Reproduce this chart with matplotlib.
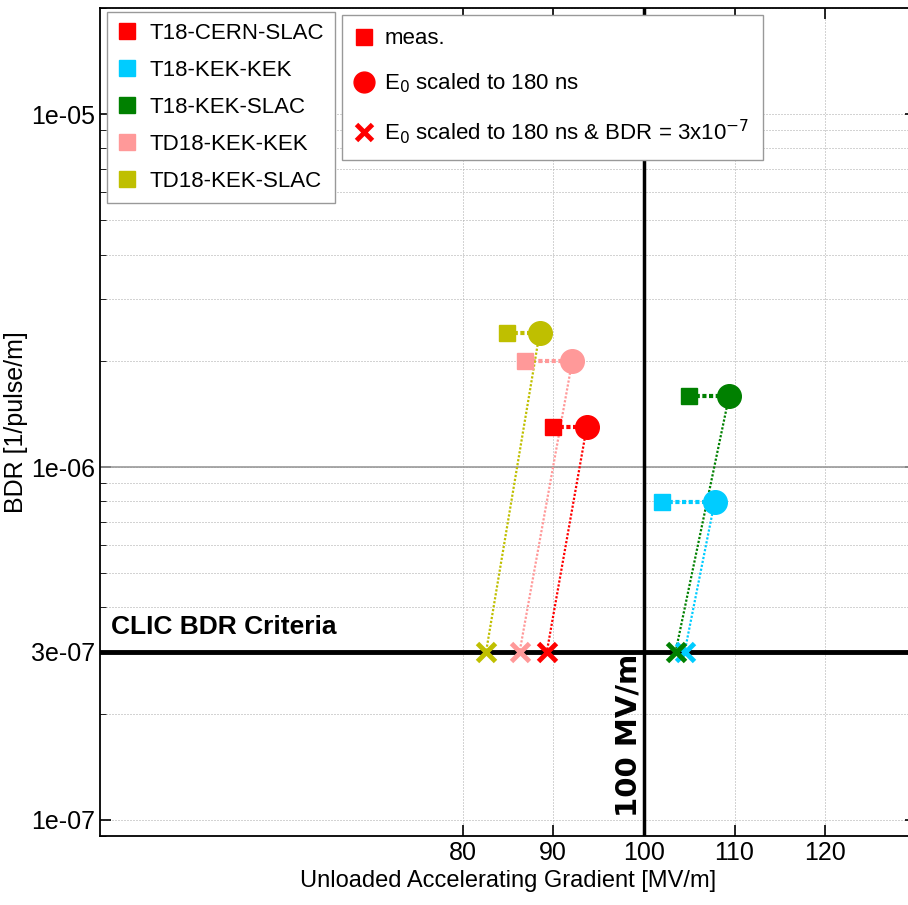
import numpy as np
import matplotlib.pyplot as plt
from matplotlib.lines import Line2D
from matplotlib.ticker import LogLocator, NullFormatter, NullLocator

plt.rcParams['font.family'] = ['Liberation Sans', 'DejaVu Sans']

# structures and colours
names = ['T18-CERN-SLAC', 'T18-KEK-KEK', 'T18-KEK-SLAC', 'TD18-KEK-KEK', 'TD18-KEK-SLAC']
colors = ['#ff0000', '#00ccff', '#008000', '#ff9999', '#bfbf00']

# measured gradient / BDR
e_meas = [90.0, 102.0, 105.0, 86.9, 84.9]
bdr_meas = [1.30e-6, 7.96e-7, 1.59e-6, 2.0e-6, 2.40e-6]
# E0 scaled to 180 ns (same BDR)
e_180 = [93.7, 107.8, 109.4, 92.1, 88.5]
# E0 scaled to 180 ns and BDR = 3e-7
e_crit = [89.3, 104.5, 103.5, 86.3, 82.6]
bdr_crit = 3e-7
clic_grad = 100

x_ticks = [80, 90, 100, 110, 120]
y_ticks = [1e-7, 3e-7, 1e-6, 1e-5]
y_ticklabels = ['1e-07', '3e-07', '1e-06', '1e-05']

# dotted grid with a whole-pixel period (avoids moire stripes at 100 dpi)
grid_style = dict(ls=(0, (1, 2)), color='#a8a8a8', lw=0.72)

fig = plt.figure(figsize=(9.08, 9.05), dpi=100)
ax = fig.add_axes([0.110, 0.0762, 0.8987, 0.915])
ax.set_yscale('log')
ax.set_xlim(40, 130)
ax.set_ylim(9e-8, 2e-5)

for i in range(len(names)):
    c = colors[i]
    ax.plot([e_meas[i], e_180[i]], [bdr_meas[i], bdr_meas[i]], ls=(0, (1, 0.6)), color=c, lw=3, zorder=3)
    ax.plot([e_180[i], e_crit[i]], [bdr_meas[i], bdr_crit], ls=(0, (1, 0.8)), color=c, lw=1.6, zorder=3)
    ax.plot(e_meas[i], bdr_meas[i], 's', color=c, ms=12, zorder=4)
    ax.plot(e_180[i], bdr_meas[i], 'o', color=c, ms=17, zorder=4)
    ax.plot(e_crit[i], bdr_crit, 'x', color=c, ms=13, mew=3.5, zorder=5)

ax.axhline(bdr_crit, color='black', lw=3.5, zorder=2)
ax.axvline(clic_grad, color='black', lw=2.5, zorder=2)
ax.axhline(1e-6, color='#999999', lw=1.2, zorder=1)

ax.text(41.2, 3.25e-7, 'CLIC BDR Criteria', fontsize=19, fontweight='bold', va='bottom')
ax.text(98.3, 1.02e-7, '100 MV/m', fontsize=21, fontweight='bold', rotation=90,
        va='bottom', ha='center', family='DejaVu Sans')

ax.set_xticks(x_ticks)
ax.xaxis.set_minor_locator(NullLocator())
ax.set_yticks(y_ticks)
ax.set_yticklabels(y_ticklabels)
ax.yaxis.set_minor_locator(LogLocator(base=10, subs=np.arange(2, 10)))
ax.yaxis.set_minor_formatter(NullFormatter())
ax.tick_params(which='both', direction='in', top=True, right=True, labelsize=18)
ax.tick_params(which='major', length=8, width=1.2)
ax.tick_params(which='minor', length=4)
ax.xaxis.grid(True, which='major', **grid_style)
ax.yaxis.grid(True, which='both', **grid_style)
ax.set_axisbelow(True)

ax.set_xlabel('Unloaded Accelerating Gradient [MV/m]', fontsize=17, labelpad=4)
ax.set_ylabel('BDR [1/pulse/m]', fontsize=18, labelpad=2)
for s in ax.spines.values():
    s.set_linewidth(1.3)

h1 = [Line2D([], [], marker='s', ls='none', color=c, ms=11) for c in colors]
leg1 = ax.legend(h1, names, loc='upper left', bbox_to_anchor=(107 / 908, 1 - 12 / 905),
                 bbox_transform=fig.transFigure, fontsize=16, fancybox=False, framealpha=1,
                 edgecolor='#999999', handlelength=0.8, handletextpad=0.6, borderpad=0.5,
                 labelspacing=0.72, borderaxespad=0)
ax.add_artist(leg1)

h2 = [Line2D([], [], marker='s', ls='none', color='red', ms=11),
      Line2D([], [], marker='o', ls='none', color='red', ms=15),
      Line2D([], [], marker='x', ls='none', color='red', ms=12, mew=3.5)]
labels2 = ['meas.', 'E$_0$ scaled to 180 ns', 'E$_0$ scaled to 180 ns & BDR = 3x10$^{-7}$']
ax.legend(h2, labels2, loc='upper left', bbox_to_anchor=(342 / 908, 1 - 15 / 905),
          bbox_transform=fig.transFigure, fontsize=16, fancybox=False, framealpha=1,
          edgecolor='#999999', handlelength=0.8, handletextpad=0.5, borderpad=0.6,
          labelspacing=1.0, borderaxespad=0)

fig.savefig('out.png', dpi=100)
